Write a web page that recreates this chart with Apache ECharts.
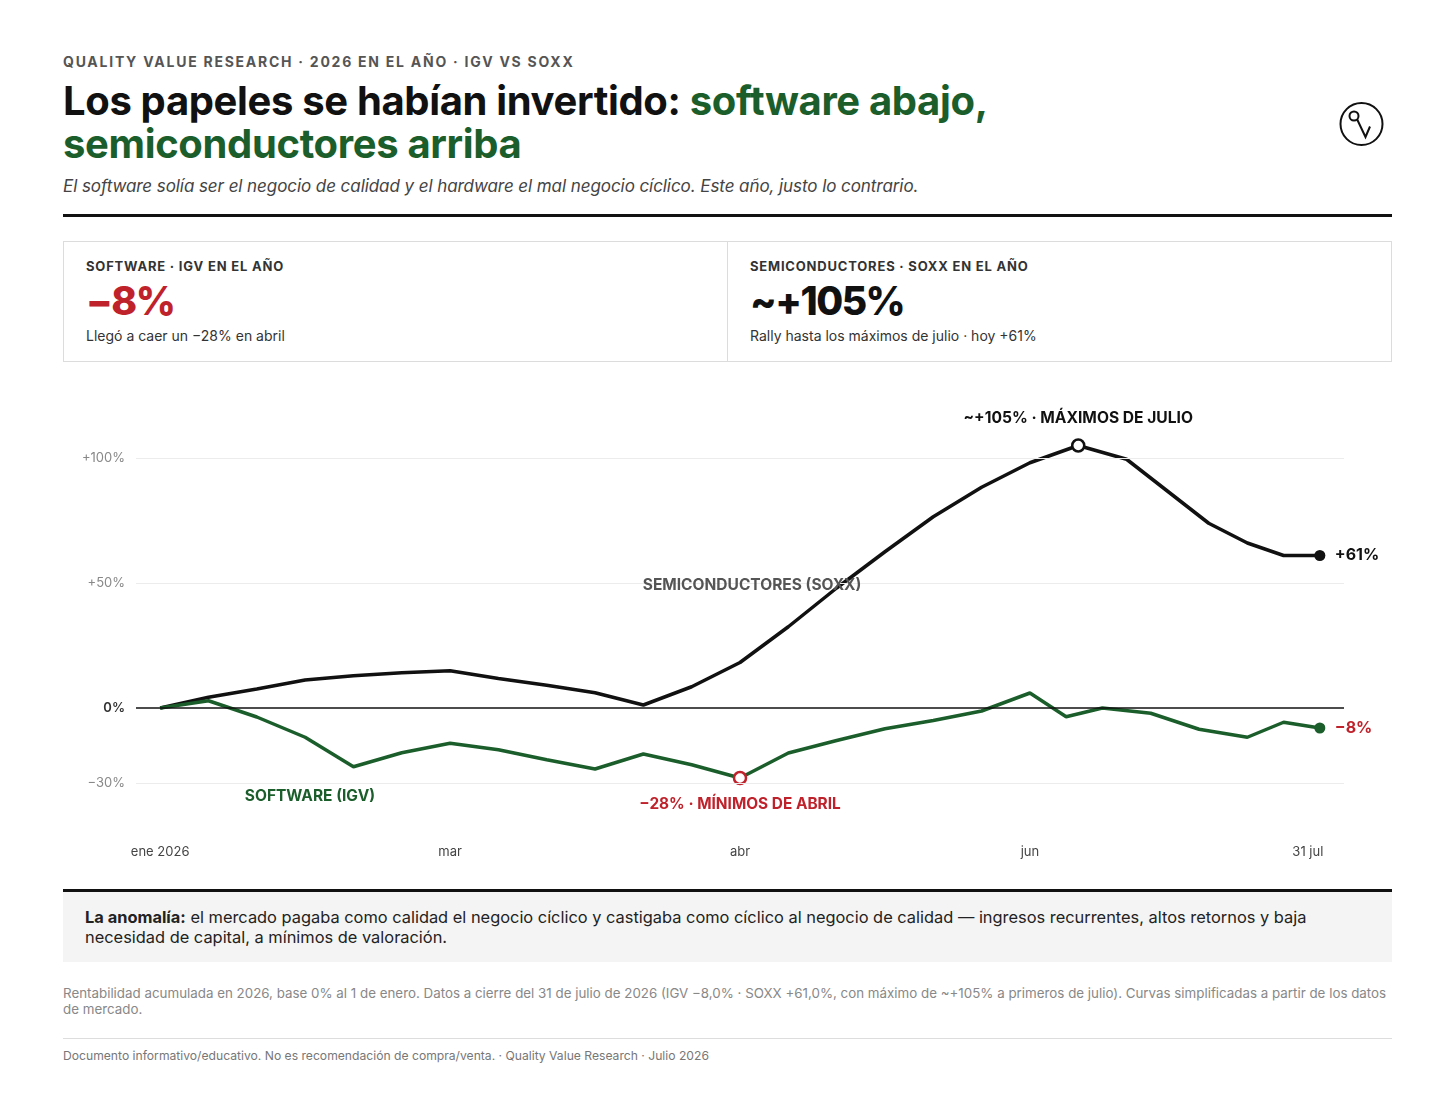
<!DOCTYPE html>
<html lang="es">
<head>
<meta charset="UTF-8">
<title>IGV vs SOXX 2026</title>
<script src="https://cdn.jsdelivr.net/npm/echarts@6/dist/echarts.min.js"></script>
<style>
    html, body { margin: 0; padding: 0; background: #fff; }
    body { width: 1456px; height: 1102px; position: relative; font-family: Inter, "Noto Sans", sans-serif; color: #111; }
    .abs { position: absolute; }
    .kicker { left: 63px; top: 53px; font-size: 14px; line-height: 18px; font-weight: 700; letter-spacing: 1.75px; color: #555; }
    .title { left: 63px; top: 79px; font-size: 40px; line-height: 43px; font-weight: 700; letter-spacing: -0.35px; color: #111; }
    .title .g { color: #1b5e2b; }
    .sub { left: 63px; top: 176px; font-size: 17px; line-height: 20px; font-style: italic; letter-spacing: -0.07px; color: #444; }
    .rule { left: 63px; width: 1329px; background: #111; }
    .kpi { left: 63px; top: 241px; width: 1327px; height: 119px; border: 1px solid #dcdcdc; }
    .cell { position: absolute; top: 0; height: 119px; }
    .cell + .cell { border-left: 1px solid #dcdcdc; }
    .klab { position: absolute; left: 22px; top: 16px; font-size: 13px; line-height: 16px; font-weight: 700; letter-spacing: 0.8px; color: #333; }
    .kval { position: absolute; left: 22px; top: 37px; font-size: 39px; line-height: 44px; font-weight: 800; letter-spacing: -1.5px; }
    .kcap { position: absolute; left: 22px; top: 85px; font-size: 14px; line-height: 18px; color: #333; }
    #main { left: 0; top: 380px; width: 1456px; height: 500px; }
    .note { left: 63px; top: 892px; width: 1285px; height: 55px; padding: 15px 22px 0 22px; background: #f4f4f4; font-size: 16.4px; line-height: 20px; color: #222; }
    .src { left: 63px; top: 985px; font-size: 13.35px; line-height: 16px; color: #888; }
    .foot { left: 63px; top: 1048px; font-size: 12.15px; line-height: 16px; color: #777; }
</style>
</head>
<body>
    <div class="abs kicker">QUALITY VALUE RESEARCH · 2026 EN EL AÑO · IGV VS SOXX</div>
    <div class="abs title">Los papeles se habían invertido: <span class="g">software abajo,</span><br><span class="g">semiconductores arriba</span></div>
    <div class="abs sub">El software solía ser el negocio de calidad y el hardware el mal negocio cíclico. Este año, justo lo contrario.</div>
    <svg class="abs" style="left:1339px;top:101px" width="46" height="46" viewBox="0 0 46 46">
        <circle cx="22.5" cy="23" r="21" fill="none" stroke="#111" stroke-width="2"/>
        <circle cx="15" cy="15" r="4.5" fill="none" stroke="#111" stroke-width="2"/>
        <polyline points="18.2,18.5 26.5,36 31,25.5" fill="none" stroke="#111" stroke-width="2" stroke-linejoin="miter"/>
    </svg>
    <div class="abs rule" style="top:214px;height:3px"></div>

    <div class="abs kpi">
        <div class="cell" style="left:0;width:663px">
            <div class="klab">SOFTWARE · IGV EN EL AÑO</div>
            <div class="kval" style="color:#c0222b">−8%</div>
            <div class="kcap">Llegó a caer un −28% en abril</div>
        </div>
        <div class="cell" style="left:663px;width:664px">
            <div class="klab">SEMICONDUCTORES · SOXX EN EL AÑO</div>
            <div class="kval" style="color:#111">~+105%</div>
            <div class="kcap">Rally hasta los máximos de julio · hoy +61%</div>
        </div>
    </div>

    <div id="main" class="abs"></div>

    <div class="abs rule" style="top:889px;height:3px"></div>
    <div class="abs note"><b>La anomalía:</b> el mercado pagaba como calidad el negocio cíclico y castigaba como cíclico al negocio de calidad — ingresos recurrentes, altos retornos y baja<br>necesidad de capital, a mínimos de valoración.</div>
    <div class="abs src">Rentabilidad acumulada en 2026, base 0% al 1 de enero. Datos a cierre del 31 de julio de 2026 (IGV −8,0% · SOXX +61,0%, con máximo de ~+105% a primeros de julio). Curvas simplificadas a partir de los datos<br>de mercado.</div>
    <div class="abs rule" style="top:1038px;height:1px;background:#ddd"></div>
    <div class="abs foot">Documento informativo/educativo. No es recomendación de compra/venta. · Quality Value Research · Julio 2026</div>

    <script>
        // eje x en pasos: 0 = 1 ene, 24 = 31 jul
        var xTicks = [0, 6, 12, 18, 24];
        var xTickLabels = ['ene 2026', 'mar', 'abr', 'jun', '31 jul'];
        var yTicks = [-30, 0, 50, 100];
        var gridLines = [100, 50, -30];

        // SOXX (semiconductores), rentabilidad acumulada %
        var soxxT = [0, 1, 2, 3, 4, 5, 6, 7, 8, 9, 10, 11, 12, 13, 14, 15, 16, 17, 18, 19, 20, 21.7, 22.5, 23.25, 24];
        var soxxV = [0, 4.3, 7.6, 11.2, 12.9, 14.1, 14.9, 11.8, 9.1, 6.1, 1.2, 8.5, 18.2, 32.5, 48, 62.5, 76.5, 88.3, 98.1, 105, 99.5, 73.9, 66, 61, 61];

        // IGV (software), rentabilidad acumulada %
        var igvT = [0, 1, 2, 3, 4, 5, 6, 7, 8, 9, 10, 11, 12, 13, 14, 15, 16, 17, 18, 18.75, 19.5, 20.5, 21.5, 22.5, 23.25, 24];
        var igvV = [0, 2.9, -3.6, -11.7, -23.5, -17.9, -14.1, -16.7, -20.7, -24.4, -18.4, -22.7, -28, -18, -13, -8.3, -5, -1.2, 6, -3.5, 0, -2.1, -8.5, -11.7, -5.7, -8];

        // etiquetas de serie (posición en unidades del gráfico)
        var soxxTag = { text: 'SEMICONDUCTORES (SOXX)', t: 12.25, v: 49.2 };
        var igvTag = { text: 'SOFTWARE (IGV)', t: 3.1, v: -35.2 };

        var BLACK = '#111', GREEN = '#1b5e2b', RED = '#c0222b';
        var FONT = 'Inter, "Noto Sans", sans-serif';

        function pct(v) {
            var r = Math.round(v);
            return (r > 0 ? '+' : r < 0 ? '−' : '') + Math.abs(r) + '%';
        }

        var peakIdx = soxxV.indexOf(Math.max.apply(null, soxxV));
        var lowIdx = igvV.indexOf(Math.min.apply(null, igvV));

        var soxxData = soxxT.map(function (t, i) {
            var item = { value: [t, soxxV[i]] };
            if (i === peakIdx) {
                item.symbol = 'circle';
                item.symbolSize = 12;
                item.itemStyle = { color: '#fff', borderColor: BLACK, borderWidth: 2.5 };
                item.label = {
                    show: true, position: 'top', distance: 12,
                    formatter: '~' + pct(soxxV[i]) + ' · MÁXIMOS DE JULIO',
                    color: BLACK, fontSize: 15.6, fontWeight: 700, fontFamily: FONT
                };
            } else if (i === soxxT.length - 1) {
                item.symbol = 'circle';
                item.symbolSize = 11;
                item.itemStyle = { color: BLACK };
            }
            return item;
        });

        var igvData = igvT.map(function (t, i) {
            var item = { value: [t, igvV[i]] };
            if (i === lowIdx) {
                item.symbol = 'circle';
                item.symbolSize = 12;
                item.itemStyle = { color: '#fff', borderColor: RED, borderWidth: 2.5 };
                item.label = {
                    show: true, position: 'bottom', distance: 12,
                    formatter: pct(igvV[i]) + ' · MÍNIMOS DE ABRIL',
                    color: RED, fontSize: 15.4, fontWeight: 700, fontFamily: FONT
                };
            } else if (i === igvT.length - 1) {
                item.symbol = 'circle';
                item.symbolSize = 11;
                item.itemStyle = { color: GREEN };
            }
            return item;
        });

        function tag(o, color) {
            return {
                symbol: 'rect', symbolSize: [1, 1], silent: true,
                itemStyle: { color: 'rgba(0,0,0,0)' },
                data: [{
                    coord: [o.t, o.v],
                    label: {
                        show: true, position: 'inside', formatter: o.text,
                        color: color, fontSize: 15.5, fontWeight: 700, fontFamily: FONT
                    }
                }]
            };
        }

        var myChart = echarts.init(document.getElementById('main'));

        var option = {
            animation: false,
            textStyle: { fontFamily: FONT },
            grid: { left: 136, right: 112, top: 15.5, bottom: 47 },
            xAxis: {
                type: 'value', min: -0.5, max: 24.5,
                axisLine: { show: false }, axisTick: { show: false }, splitLine: { show: false },
                axisLabel: {
                    customValues: xTicks, margin: 13,
                    color: '#444', fontSize: 13, fontFamily: FONT,
                    formatter: function (v) {
                        var i = xTicks.indexOf(v);
                        if (i === xTicks.length - 1) return '{n|' + xTickLabels[i] + '}{s| }';
                        return xTickLabels[i];
                    },
                    rich: {
                        n: { color: '#444', fontSize: 13, fontFamily: FONT },
                        s: { width: 24, fontSize: 13 }
                    }
                }
            },
            yAxis: {
                type: 'value', min: -50, max: 125,
                axisLine: { show: false }, axisTick: { show: false }, splitLine: { show: false },
                axisLabel: {
                    customValues: yTicks, margin: 11,
                    color: '#888', fontSize: 13, fontFamily: FONT,
                    formatter: function (v) {
                        return v === 0 ? '{z|0%}' : pct(v);
                    },
                    rich: { z: { color: '#333', fontSize: 13, fontWeight: 600, fontFamily: FONT } }
                }
            },
            series: [
                {
                    // líneas de referencia
                    type: 'line', data: [], z: 1, silent: true,
                    markLine: {
                        silent: true, symbol: 'none', label: { show: false },
                        data: gridLines.map(function (v) {
                            return { yAxis: v, lineStyle: { color: '#ececec', width: 1, type: 'solid' } };
                        }).concat([{ yAxis: 0, lineStyle: { color: BLACK, width: 1.5, type: 'solid' } }])
                    }
                },
                {
                    name: 'SOXX', type: 'line', z: 3,
                    data: soxxData, symbol: 'none', showSymbol: true,
                    lineStyle: { color: BLACK, width: 3.5 },
                    itemStyle: { color: BLACK },
                    endLabel: {
                        show: true, distance: 15,
                        formatter: function (p) { return pct(p.value[1]); },
                        color: BLACK, fontSize: 16, fontWeight: 700, fontFamily: FONT
                    },
                    markPoint: tag(soxxTag, '#555')
                },
                {
                    name: 'IGV', type: 'line', z: 4,
                    data: igvData, symbol: 'none', showSymbol: true,
                    lineStyle: { color: GREEN, width: 3.5 },
                    itemStyle: { color: GREEN },
                    endLabel: {
                        show: true, distance: 15,
                        formatter: function (p) { return pct(p.value[1]); },
                        color: RED, fontSize: 16, fontWeight: 700, fontFamily: FONT
                    },
                    markPoint: tag(igvTag, GREEN)
                }
            ]
        };

        myChart.setOption(option);

        window.addEventListener('resize', function () {
            myChart.resize();
        });
    </script>
</body>
</html>
